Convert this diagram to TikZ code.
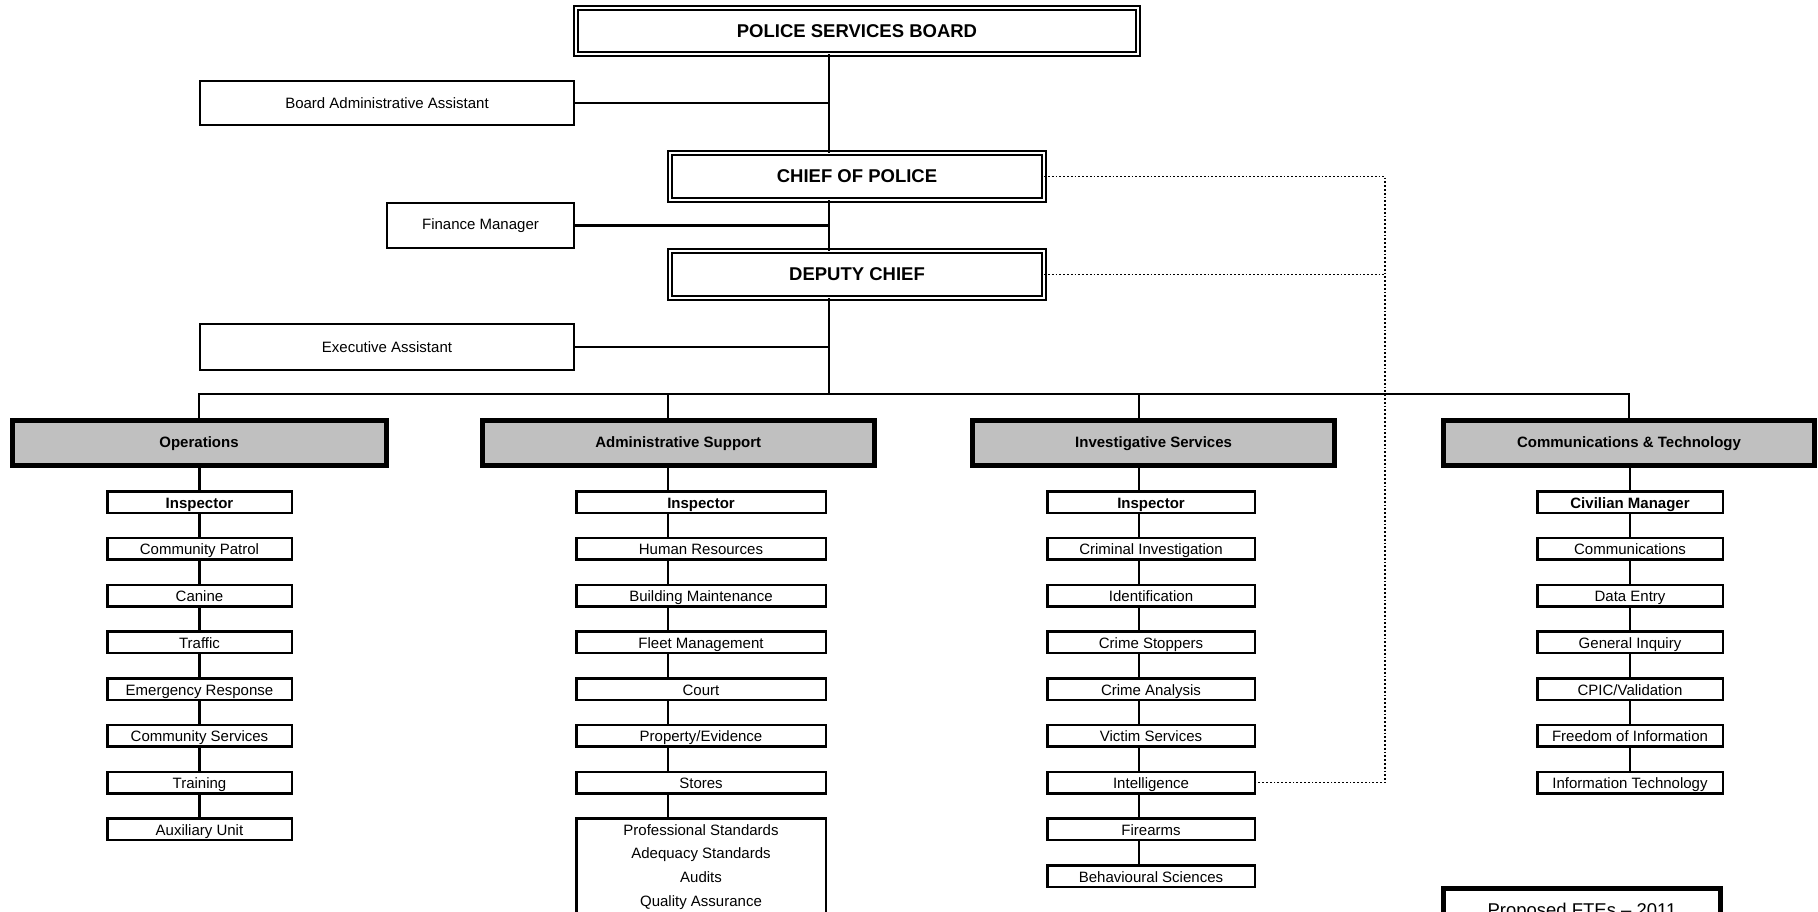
\documentclass[tikz,border=0pt]{standalone}
\usepackage{fontspec}
\setmainfont{Liberation Sans}
\usetikzlibrary{positioning, calc}
\definecolor{deptgray}{RGB}{192,192,192}

\begin{document}
\begin{tikzpicture}[x=1pt, y=-1pt,
    every node/.style={outer sep=0pt, inner sep=0pt},
    topbox/.style={draw, double, line width=1.6pt, double distance=2.4pt,
        minimum width=374.4pt, minimum height=47.4pt,
        font=\fontsize{18.5}{22}\selectfont\bfseries},
    staffbox/.style={draw, line width=2pt, minimum width=374pt, minimum height=45pt,
        font=\fontsize{15}{18}\selectfont},
    deptbox/.style={draw, fill=deptgray, line width=5pt, minimum height=45.7pt,
        text height=11pt, text depth=2.6pt, font=\fontsize{15}{18}\selectfont\bfseries},
    subbox/.style={draw, fill=white, line width=2.5pt, minimum height=21.5pt,
        text height=13pt, text depth=0.6pt, font=\fontsize{15}{18}\selectfont},
    link/.style={line width=2.5pt},
    thinlink/.style={line width=1.3pt},
    dotlink/.style={line width=1.8pt, dotted}]

    \useasboundingbox (0,0) rectangle (1818,912);
    \clip (0,0) rectangle (1818,912);

    % board and command
    \node[topbox, minimum width=562.4pt, minimum height=46.4pt] (board) at (857,31) {POLICE SERVICES BOARD};
    \node[topbox] (chief) at (857,176.5) {CHIEF OF POLICE};
    \node[topbox] (deputy) at (857,274.5) {DEPUTY CHIEF};

    \node[staffbox, minimum height=44pt] (boardasst) at (387,103) {Board Administrative Assistant};
    \node[staffbox, minimum width=187pt] (finance) at (480.5,225.5) {Finance Manager};
    \node[staffbox, minimum height=46pt] (execasst) at (387,347) {Executive Assistant};

    \coordinate (trunk) at (829,394);
    \coordinate (adminx) at (668,394);
    \coordinate (investx) at (1139,394);
    \coordinate (dotx) at (1385,0);

    \draw[thinlink] (board.south -| trunk) -- (chief.north -| trunk);
    \draw[thinlink] (chief.south -| trunk) -- (deputy.north -| trunk);
    \draw[thinlink] (deputy.south -| trunk) -- (trunk);
    \draw[thinlink] (boardasst.east) -- (boardasst.east -| trunk);
    \draw[link] (finance.east) -- (finance.east -| trunk);
    \draw[thinlink] (execasst.east) -- (execasst.east -| trunk);

    % divisions
    \node[deptbox, minimum width=374pt] (ops) at (199,443) {Operations};
    \node[deptbox, minimum width=391.5pt] (admin) at (678.3,443) {Administrative Support};
    \node[deptbox, minimum width=361.4pt] (invest) at (1153.6,443) {Investigative Services};
    \node[deptbox, minimum width=371pt] (comms) at (1629,443) {Communications \& Technology};

    \draw[link] (ops.north) |- (trunk) -| (comms.north);
    \draw[link] (adminx) -- (adminx |- admin.north);
    \draw[link] (investx) -- (investx |- invest.north);

    % sections
    \foreach \name [count=\i from 0] in {\textbf{Inspector}, Community Patrol, Canine, Traffic,
        Emergency Response, Community Services, Training, Auxiliary Unit}
        \node[subbox, minimum width=184.5pt] (ops\i) at (199.5,{502+46.75*\i}) {\name};
    \foreach \name [count=\i from 0] in {\textbf{Inspector}, Human Resources, Building Maintenance,
        Fleet Management, Court, Property/Evidence, Stores}
        \node[subbox, minimum width=249.5pt] (adm\i) at (701,{502+46.75*\i}) {\name};
    \node[subbox, minimum width=249.5pt, anchor=north, inner ysep=5.9pt, align=center,
        text height=, text depth=, font=\fontsize{15}{23.7}\selectfont] (adm7) at (701,818.5)
        {Professional Standards\\Adequacy Standards\\Audits\\Quality Assurance};
    \foreach \name [count=\i from 0] in {\textbf{Inspector}, Criminal Investigation, Identification,
        Crime Stoppers, Crime Analysis, Victim Services, Intelligence, Firearms, Behavioural Sciences}
        \node[subbox, minimum width=207.5pt] (inv\i) at (1151,{502+46.75*\i}) {\name};
    \foreach \name [count=\i from 0] in {\textbf{Civilian Manager}, Communications, Data Entry,
        General Inquiry, CPIC/Validation, Freedom of Information, Information Technology}
        \node[subbox, minimum width=185.5pt] (com\i) at (1630,{502+46.75*\i}) {\name};

    \draw[link] (ops0 |- ops.south) -- (ops0.north);
    \foreach \i [remember=\i as \prev (initially 0)] in {1,...,7}
        \draw[link] (ops\prev.south) -- (ops\i.north);
    \draw[link] (adminx |- admin.south) -- (adminx |- adm0.north);
    \foreach \i [remember=\i as \prev (initially 0)] in {1,...,7}
        \draw[link] (adminx |- adm\prev.south) -- (adminx |- adm\i.north);
    \draw[link] (investx |- invest.south) -- (investx |- inv0.north);
    \foreach \i [remember=\i as \prev (initially 0)] in {1,...,8}
        \draw[link] (investx |- inv\prev.south) -- (investx |- inv\i.north);
    \draw[link] (com0 |- comms.south) -- (com0.north);
    \foreach \i [remember=\i as \prev (initially 0)] in {1,...,6}
        \draw[link] (com\prev.south) -- (com\i.north);

    % dotted reporting line
    \draw[dotlink] (chief.east) -- (chief.east -| dotx) -- (inv6.east -| dotx) -- (inv6.east);
    \draw[dotlink] (deputy.east) -- (deputy.east -| dotx);

    \node[draw, line width=5pt, anchor=north, minimum width=277.5pt, inner ysep=14pt,
        text height=13.5pt, text depth=40pt, font=\fontsize{18.5}{22}\selectfont] (fte) at (1582,888.7)
        {Proposed FTEs -- 2011};
\end{tikzpicture}
\end{document}
